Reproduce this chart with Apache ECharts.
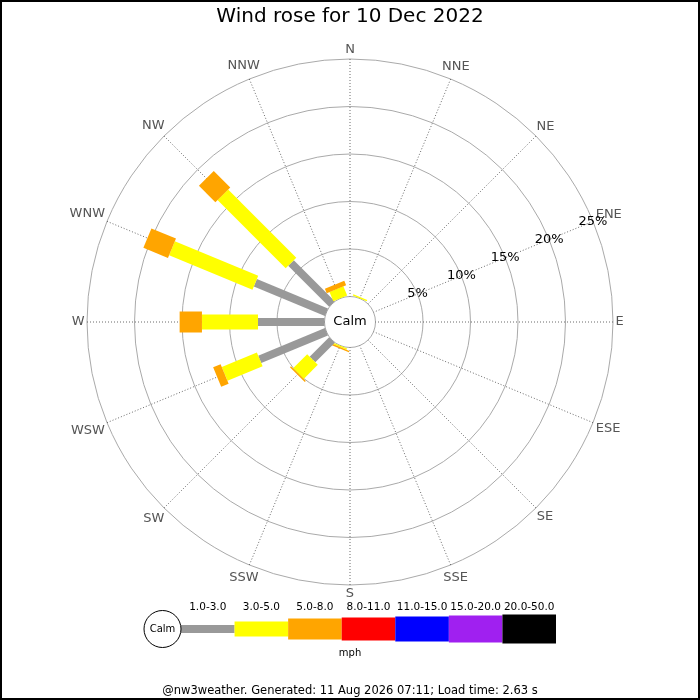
<!DOCTYPE html>
<html>
<head>
<meta charset="utf-8">
<script src="https://cdn.jsdelivr.net/npm/echarts@6/dist/echarts.min.js"></script>
<style>
html,body{margin:0;padding:0;background:#fff;}
#chart{width:700px;height:700px;}
</style>
</head>
<body>
<div id="chart"></div>
<script>
// ---------------- DATA ----------------
const directions = ['N','NNE','NE','ENE','E','ESE','SE','SSE','S','SSW','SW','WSW','W','WNW','NW','NNW'];
const directionAngles = [0,22.5,45,67.5,90,112.5,135,157.5,180,202.5,225,247.5,270,292.5,315,337.5];
const speedBins = ['1.0-3.0','3.0-5.0','5.0-8.0','8.0-11.0','11.0-15.0','15.0-20.0','20.0-50.0'];
// percent of time per direction, per speed bin (mph)
const freq_1_3   = [0,0,0,0,0,0,0,0,0,0,   2.9, 7.6, 7.0, 8.1, 6.1, 0];
const freq_3_5   = [0,0.15,0,0,0,0,0,0,0,0.15, 2.1, 4.0, 5.9, 9.5, 10.15, 1.05];
const freq_5_8   = [0,0,0,0,0,0,0,0,0,0.15, 0.15, 0.85, 2.35, 2.8, 2.45, 0.5];
const freq_8_11  = [0,0,0,0,0,0,0,0,0,0,0,0,0,0,0,0];
const freq_11_15 = [0,0,0,0,0,0,0,0,0,0,0,0,0,0,0,0];
const freq_15_20 = [0,0,0,0,0,0,0,0,0,0,0,0,0,0,0,0];
const freq_20_50 = [0,0,0,0,0,0,0,0,0,0,0,0,0,0,0,0];
const radiusTicks = [5,10,15,20,25];
const calmLabel = 'Calm';
const unitLabel = 'mph';
const titleText = 'Wind rose for 10 Dec 2022';
const footerText = '@nw3weather. Generated: 11 Aug 2026 07:11; Load time: 2.63 s';

// ---------------- STYLE ----------------
const binColors = ['#999999','#ffff00','#ffa500','#ff0000','#0000ff','#a020f0','#000000'];
const binWidths = [8,15,21,23,25,27,29];
const FONT = '"DejaVu Sans", "Liberation Sans", sans-serif';
const radiusLabelAngle = 67.5;
const dirLabelGap = 2.5;

const freqs = [freq_1_3, freq_3_5, freq_5_8, freq_8_11, freq_11_15, freq_15_20, freq_20_50];

// stacked segments [start, end, angle, bin]
const roseData = [];
directions.forEach(function (d, i) {
  let cum = 0;
  freqs.forEach(function (arr, b) {
    const v = arr[i];
    if (v > 0) {
      roseData.push([cum, cum + v, directionAngles[i], b]);
      cum += v;
    }
  });
});

const measureCtx = document.createElement('canvas').getContext('2d');
measureCtx.font = '13px ' + FONT;

function unitDir(api, ang) {
  const a = api.coord([0, ang]);
  const o = api.coord([25, ang]);
  let ux = o[0] - a[0], uy = o[1] - a[1];
  const L = Math.hypot(ux, uy) || 1;
  return [ux / L, uy / L];
}

const chart = echarts.init(document.getElementById('chart'), null, {renderer: 'canvas'});

const option = {
  backgroundColor: '#ffffff',
  animation: false,
  title: [
    {text: titleText, left: 'center', top: 7, padding: 0,
     textStyle: {fontFamily: FONT, fontSize: 20, fontWeight: 'normal', color: '#000'}},
    {text: unitLabel, left: 'center', top: 648, padding: 0,
     textStyle: {fontFamily: FONT, fontSize: 10, fontWeight: 'normal', color: '#000'}},
    {text: footerText, left: 'center', top: 685, padding: 0,
     textStyle: {fontFamily: FONT, fontSize: 11.5, fontWeight: 'normal', color: '#000'}}
  ],
  polar: {center: [350, 322], radius: [25.5, 263]},
  angleAxis: {
    type: 'value', min: 0, max: 360, interval: 22.5,
    startAngle: 90, clockwise: true,
    axisLine: {show: false}, axisTick: {show: false}, axisLabel: {show: false},
    splitLine: {show: true, lineStyle: {color: '#444', width: 0.8, type: [1, 2]}}
  },
  radiusAxis: {
    type: 'value', min: 0, max: 25, interval: 5,
    axisLine: {show: false}, axisTick: {show: false}, axisLabel: {show: false},
    splitLine: {show: true, lineStyle: {color: '#aaaaaa', width: 1}}
  },
  grid: {left: 181, width: 375, top: 617, height: 24},
  xAxis: {
    type: 'category', data: speedBins, position: 'top',
    axisLine: {show: false}, axisTick: {show: false}, splitLine: {show: false},
    axisLabel: {show: true, interval: 0, margin: 4, color: '#000', fontFamily: FONT, fontSize: 10.5}
  },
  yAxis: {type: 'value', min: -1, max: 1, show: false},
  series: [
    {
      type: 'custom', coordinateSystem: 'polar', polarIndex: 0,
      encode: {radius: [0, 1], angle: 2},
      data: roseData,
      renderItem: function (params, api) {
        const r0 = api.value(0), r1 = api.value(1), ang = api.value(2), b = api.value(3);
        const u = unitDir(api, ang);
        const nx = -u[1], ny = u[0];
        const hw = binWidths[b] / 2;
        const p0 = api.coord([r0, ang]);
        const p1 = api.coord([r1, ang]);
        return {
          type: 'polygon',
          shape: {points: [
            [p0[0] + nx * hw, p0[1] + ny * hw],
            [p1[0] + nx * hw, p1[1] + ny * hw],
            [p1[0] - nx * hw, p1[1] - ny * hw],
            [p0[0] - nx * hw, p0[1] - ny * hw]
          ]},
          style: {fill: binColors[b], stroke: null}
        };
      }
    },
    {
      // compass direction labels
      type: 'custom', coordinateSystem: 'polar', polarIndex: 0,
      encode: {radius: 0, angle: 1},
      data: directions.map(function (d, i) { return [25, directionAngles[i]]; }),
      renderItem: function (params, api) {
        const ang = api.value(1);
        const txt = directions[params.dataIndex];
        const u = unitDir(api, ang);
        const o = api.coord([25, ang]);
        const w = measureCtx.measureText(txt).width;
        const h = 13;
        const off = dirLabelGap + (w / 2) * Math.abs(u[0]) + (h / 2) * Math.abs(u[1]);
        return {
          type: 'text',
          x: o[0] + u[0] * off, y: o[1] + u[1] * off,
          style: {text: txt, fill: '#555555', font: '13px ' + FONT,
                  align: 'center', verticalAlign: 'middle',
                  textAlign: 'center', textVerticalAlign: 'middle'}
        };
      }
    },
    {
      // radial percentage labels
      type: 'custom', coordinateSystem: 'polar', polarIndex: 0,
      encode: {radius: 0, angle: 1},
      data: radiusTicks.map(function (v) { return [v, radiusLabelAngle]; }),
      z: 5,
      renderItem: function (params, api) {
        const p = api.coord([api.value(0), api.value(1)]);
        return {
          type: 'text', x: p[0], y: p[1],
          style: {text: radiusTicks[params.dataIndex] + '%', fill: '#000', font: '13px ' + FONT,
                  align: 'center', verticalAlign: 'middle',
                  textAlign: 'center', textVerticalAlign: 'middle'}
        };
      }
    },
    {
      // legend swatches
      type: 'custom', coordinateSystem: 'cartesian2d',
      encode: {x: 0, y: 1},
      data: speedBins.map(function (s, i) { return [i, 0]; }),
      renderItem: function (params, api) {
        const c = api.coord([api.value(0), 0]);
        const bw = api.size([1, 0])[0];
        const i = params.dataIndex;
        const th = binWidths[i];
        return {
          type: 'rect',
          shape: {x: c[0] - bw / 2, y: c[1] - th / 2, width: bw, height: th},
          style: {fill: binColors[i], stroke: null}
        };
      }
    }
  ],
  graphic: [
    {type: 'circle', shape: {cx: 350, cy: 322, r: 25}, style: {fill: '#fff', stroke: null}, z: -1, silent: true},
    {type: 'text', x: 350, y: 322, z: 100,
     style: {text: calmLabel, font: '13px ' + FONT, fill: '#000', align: 'center', verticalAlign: 'middle',
             textAlign: 'center', textVerticalAlign: 'middle'}},
    {type: 'circle', shape: {cx: 162.5, cy: 629, r: 18.5}, z: 100,
     style: {fill: '#fff', stroke: '#000', lineWidth: 1}},
    {type: 'text', x: 162.5, y: 629, z: 101,
     style: {text: calmLabel, font: '10px ' + FONT, fill: '#000', align: 'center', verticalAlign: 'middle',
             textAlign: 'center', textVerticalAlign: 'middle'}},
    {type: 'rect', shape: {x: 1, y: 1, width: 698, height: 698}, z: 100, silent: true,
     style: {fill: 'none', stroke: '#000', lineWidth: 2}}
  ]
};
chart.setOption(option);
</script>
</body>
</html>
